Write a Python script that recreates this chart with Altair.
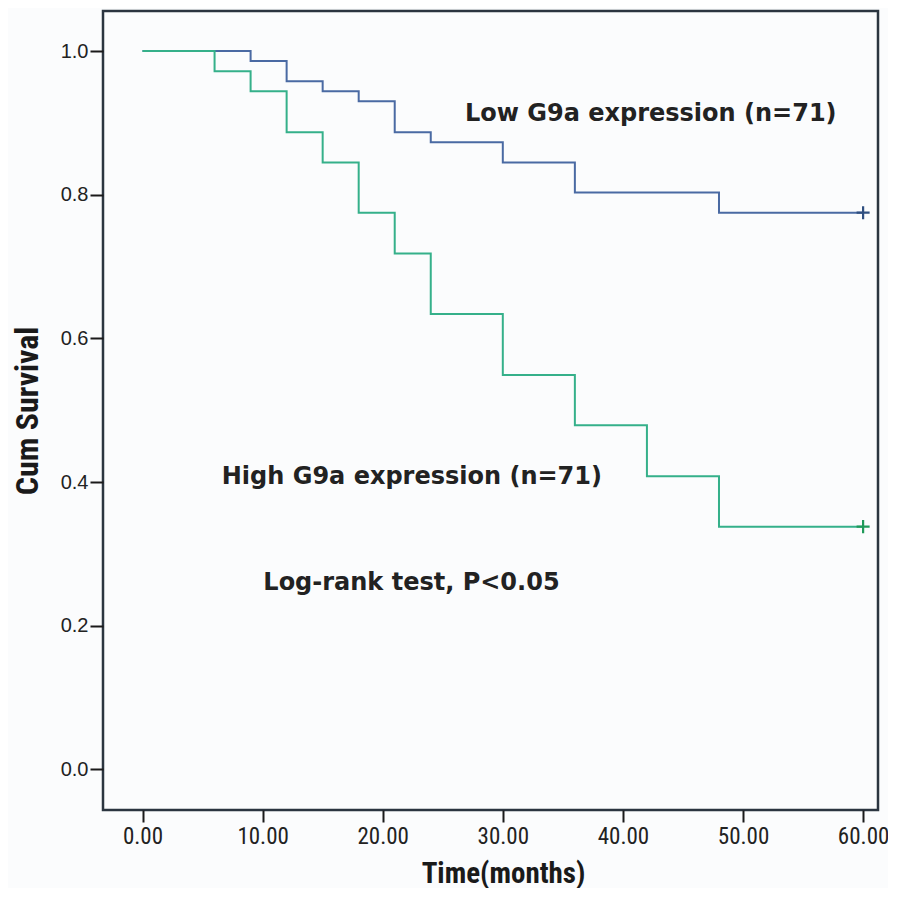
import altair as alt
import pandas as pd

# Kaplan-Meier step data
low_time = [0, 9, 12, 15, 18, 21, 24, 30, 36, 48, 60]
low_surv = [1.0, 0.986, 0.958, 0.944, 0.930, 0.887, 0.873, 0.845, 0.803, 0.775, 0.775]

high_time = [0, 6, 9, 12, 15, 18, 21, 24, 30, 36, 42, 48, 60]
high_surv = [1.0, 0.972, 0.944, 0.887, 0.845, 0.775, 0.718, 0.634, 0.549, 0.479, 0.408, 0.338, 0.338]

groups = ["Low", "High"]
censor_time = [60, 60]
censor_surv = [0.775, 0.338]

labels = ["Low G9a expression (n=71)", "High G9a expression (n=71)", "Log-rank test, P<0.05"]
label_x = [26.85, 6.6, 10.06]
label_y = [0.902, 0.397, 0.250]

x_ticks = [0, 10, 20, 30, 40, 50, 60]
y_ticks = [0.0, 0.2, 0.4, 0.6, 0.8, 1.0]

line_df = pd.concat([
    pd.DataFrame({"time": low_time, "surv": low_surv, "group": "Low"}),
    pd.DataFrame({"time": high_time, "surv": high_surv, "group": "High"}),
], ignore_index=True)
cens_df = pd.DataFrame({"time": censor_time, "surv": censor_surv, "group": groups})
lab_df = pd.DataFrame({"x": label_x, "y": label_y, "label": labels})

W, H = 775, 799
xscale = alt.Scale(domain=[-3.29, 61.24], nice=False, zero=False)
yscale = alt.Scale(domain=[-0.0564, 1.0557], nice=False, zero=False)

narrow = "Liberation Sans Narrow, Roboto Condensed, DejaVu Sans Condensed, Arial Narrow, sans-serif"

xaxis = alt.Axis(
    values=x_ticks, format=".2f", grid=False, domain=False,
    tickSize=12, tickWidth=2, tickColor="#1a1a1a",
    labelFont=narrow, labelFontSize=23, labelColor="#222222", labelPadding=3,
    title="Time(months)", titleFont=narrow, titleFontSize=29, titleFontWeight="bold",
    titleColor="#1a1a1a", titleX=400, titleY=72, titleAlign="center", titleBaseline="alphabetic",
)
yaxis = alt.Axis(
    values=y_ticks, format=".1f", grid=False, domain=False,
    tickSize=13, tickWidth=2, tickColor="#1a1a1a",
    labelFont="Liberation Sans", labelFontSize=20, labelColor="#222222", labelPadding=2,
    title="Cum Survival", titleFont=narrow, titleFontSize=32, titleFontWeight="bold",
    titleColor="#1a1a1a", titleAngle=-90, titleX=-76, titleY=H / 2,
    titleAlign="center", titleBaseline="middle",
)

color_scale = alt.Scale(domain=groups, range=["#4a6aa3", "#35b08a"])
cens_scale = alt.Scale(domain=groups, range=["#2f4f80", "#1f9a5a"])

lines = alt.Chart(line_df).mark_line(interpolate="step-after", strokeWidth=2).encode(
    x=alt.X("time:Q", scale=xscale, axis=xaxis),
    y=alt.Y("surv:Q", scale=yscale, axis=yaxis),
    color=alt.Color("group:N", scale=color_scale, legend=None),
)

censors = alt.Chart(cens_df).mark_point(
    shape="M-1,0L1,0M0,-1L0,1", filled=False, size=170, strokeWidth=2.2, opacity=1
).encode(
    x=alt.X("time:Q", scale=xscale),
    y=alt.Y("surv:Q", scale=yscale),
    stroke=alt.Color("group:N", scale=cens_scale, legend=None),
)

texts = alt.Chart(lab_df).mark_text(
    align="left", baseline="alphabetic", font="DejaVu Sans", fontWeight="bold",
    fontSize=24, color="#222222"
).encode(
    x=alt.X("x:Q", scale=xscale),
    y=alt.Y("y:Q", scale=yscale),
    text="label:N",
)

chart = alt.layer(lines, censors, texts).resolve_scale(color="independent").properties(
    width=W, height=H,
    autosize=alt.AutoSizeParams(type="none"),
    padding={"left": 95, "top": 3, "right": 10, "bottom": 78},
    background="#fbfcfd",
).configure_view(stroke="#2b3540", strokeWidth=2.5)

chart.save("out.html", embed_options={"renderer": "svg", "actions": False})
